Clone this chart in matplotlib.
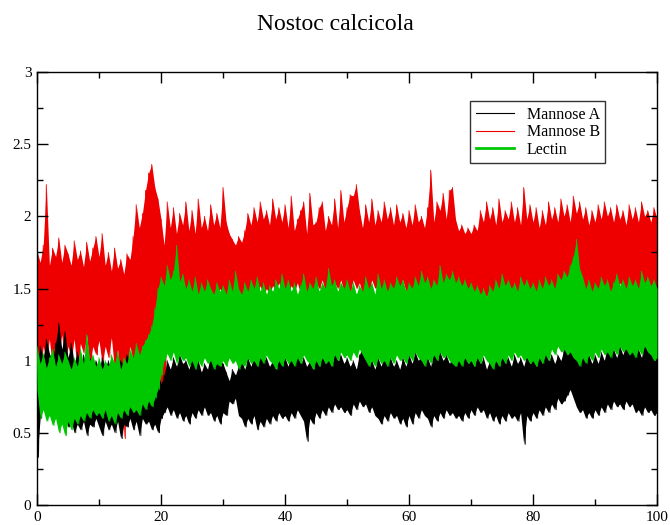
import numpy as np
import matplotlib
matplotlib.use("Agg")
import matplotlib.pyplot as plt
from matplotlib.lines import Line2D
from matplotlib.ticker import MultipleLocator, FormatStrFormatter

# =========================================
# DATA — upper / lower extent of each trace, read every 0.5 ns
# =========================================
STEP = 0.5

mannose_b_hi = [
    1.76, 1.68, 1.80, 2.22, 1.66, 1.78, 1.72, 1.85, 1.68, 1.80, 1.74, 1.66, 1.83, 1.70, 1.76, 1.65, 1.82, 1.69, 1.78, 1.86,
    1.72, 1.88, 1.66, 1.75, 1.62, 1.78, 1.64, 1.70, 1.60, 1.74, 1.70, 1.86, 2.08, 1.92, 2.02, 2.18, 2.30, 2.36, 2.20, 2.12,
    1.98, 1.80, 2.10, 1.92, 2.06, 1.88, 2.02, 1.94, 2.10, 1.90, 2.04, 1.88, 2.12, 1.92, 2.00, 1.90, 2.08, 1.94, 2.02, 1.92,
    2.20, 1.96, 1.88, 1.84, 1.80, 1.86, 1.82, 1.90, 2.02, 1.94, 2.06, 1.96, 2.10, 1.98, 2.04, 1.94, 2.12, 1.98, 2.06, 1.96,
    2.08, 1.92, 2.14, 1.90, 1.98, 2.04, 2.10, 1.88, 2.16, 1.94, 1.96, 2.06, 2.10, 1.90, 2.00, 1.94, 2.12, 1.92, 2.18, 1.96,
    2.06, 2.15, 2.14, 2.22, 2.04, 1.92, 2.08, 1.96, 2.12, 1.94, 2.04, 1.96, 2.10, 1.98, 2.06, 1.94, 2.08, 1.96, 2.02, 1.92,
    2.04, 1.94, 2.08, 1.96, 2.00, 1.92, 2.06, 2.32, 1.96, 2.10, 2.04, 2.16, 1.98, 2.18, 2.20, 1.98, 1.90, 1.94, 1.88, 1.92,
    1.88, 1.94, 1.90, 2.04, 1.96, 2.10, 1.98, 2.06, 1.94, 2.12, 1.96, 2.04, 1.98, 2.10, 1.96, 2.06, 1.94, 2.20, 1.98, 2.08,
    1.96, 2.06, 1.92, 2.04, 1.94, 2.10, 1.98, 2.06, 1.96, 2.12, 2.00, 2.08, 1.96, 2.14, 2.02, 2.10, 1.98, 2.06, 1.94, 2.04,
    1.96, 2.08, 1.98, 2.10, 2.00, 2.06, 1.96, 2.08, 1.98, 2.04, 1.94, 2.08, 1.98, 2.06, 1.96, 2.10, 2.00, 2.04, 1.96, 2.06, 1.98,
]
mannose_b_lo = [
    0.45, 0.90, 1.10, 1.00, 1.15, 0.95, 1.12, 1.05, 1.18, 0.98, 1.10, 1.02, 1.15, 0.92, 1.12, 1.05, 1.18, 0.96, 1.10, 1.04,
    1.14, 0.98, 1.10, 1.02, 1.16, 0.94, 1.08, 0.70, 0.46, 0.95, 1.10, 1.00, 1.05, 0.95, 1.10, 0.80, 1.00, 0.70, 0.90, 0.62,
    0.60, 0.75, 1.30, 1.40, 1.35, 1.45, 1.38, 1.48, 1.40, 1.50, 1.44, 1.52, 1.40, 1.48, 1.42, 1.50, 1.38, 1.46, 1.42, 1.50,
    1.44, 1.40, 1.36, 1.30, 1.34, 1.28, 1.36, 1.42, 1.48, 1.44, 1.50, 1.46, 1.52, 1.44, 1.50, 1.46, 1.52, 1.48, 1.54, 1.46,
    1.50, 1.46, 1.52, 1.48, 1.54, 1.46, 1.50, 1.44, 1.52, 1.48, 1.54, 1.50, 1.56, 1.48, 1.52, 1.46, 1.54, 1.50, 1.56, 1.48,
    1.52, 1.48, 1.56, 1.50, 1.54, 1.46, 1.52, 1.48, 1.56, 1.50, 1.54, 1.46, 1.50, 1.44, 1.52, 1.48, 1.54, 1.50, 1.56, 1.48,
    1.52, 1.46, 1.54, 1.48, 1.52, 1.46, 1.50, 1.44, 1.48, 1.42, 1.46, 1.40, 1.44, 1.38, 1.42, 1.36, 1.40, 1.38, 1.42, 1.40,
    1.44, 1.40, 1.46, 1.42, 1.48, 1.44, 1.50, 1.46, 1.52, 1.44, 1.48, 1.42, 1.46, 1.40, 1.44, 1.42, 1.48, 1.44, 1.50, 1.46,
    1.50, 1.44, 1.48, 1.42, 1.46, 1.40, 1.44, 1.42, 1.48, 1.44, 1.50, 1.46, 1.52, 1.48, 1.54, 1.46, 1.50, 1.44, 1.48, 1.42,
    1.46, 1.42, 1.48, 1.44, 1.50, 1.46, 1.52, 1.48, 1.54, 1.46, 1.50, 1.44, 1.48, 1.42, 1.46, 1.44, 1.50, 1.46, 1.48, 1.44, 1.46,
]

lectin_hi = [
    1.10, 0.98, 1.05, 0.95, 1.02, 1.08, 0.96, 1.04, 0.98, 1.06, 1.00, 0.94, 1.02, 0.96, 1.08, 0.98, 1.18, 1.00, 1.04, 0.96,
    1.02, 0.94, 1.00, 0.96, 1.04, 0.98, 1.06, 0.94, 1.02, 0.98, 1.08, 1.02, 1.12, 1.04, 1.10, 1.14, 1.18, 1.24, 1.36, 1.50,
    1.58, 1.52, 1.66, 1.56, 1.62, 1.80, 1.55, 1.60, 1.50, 1.56, 1.48, 1.58, 1.46, 1.54, 1.48, 1.56, 1.50, 1.46, 1.54, 1.48,
    1.52, 1.46, 1.56, 1.48, 1.62, 1.50, 1.46, 1.54, 1.48, 1.56, 1.50, 1.58, 1.48, 1.54, 1.46, 1.52, 1.48, 1.56, 1.50, 1.60,
    1.50, 1.56, 1.48, 1.54, 1.46, 1.52, 1.60, 1.48, 1.54, 1.50, 1.58, 1.48, 1.54, 1.50, 1.64, 1.52, 1.56, 1.48, 1.54, 1.50,
    1.56, 1.48, 1.54, 1.46, 1.52, 1.48, 1.58, 1.50, 1.54, 1.46, 1.60, 1.50, 1.56, 1.48, 1.54, 1.50, 1.58, 1.52, 1.56, 1.48,
    1.54, 1.50, 1.58, 1.52, 1.62, 1.54, 1.58, 1.50, 1.56, 1.52, 1.66, 1.54, 1.60, 1.56, 1.62, 1.54, 1.58, 1.52, 1.56, 1.50,
    1.54, 1.48, 1.52, 1.46, 1.50, 1.44, 1.52, 1.48, 1.56, 1.50, 1.60, 1.52, 1.56, 1.50, 1.54, 1.48, 1.58, 1.52, 1.56, 1.50,
    1.54, 1.48, 1.56, 1.50, 1.58, 1.52, 1.56, 1.50, 1.60, 1.56, 1.62, 1.58, 1.66, 1.72, 1.84, 1.64, 1.58, 1.50, 1.56, 1.48,
    1.54, 1.50, 1.58, 1.52, 1.56, 1.48, 1.54, 1.60, 1.52, 1.56, 1.50, 1.58, 1.52, 1.56, 1.50, 1.62, 1.54, 1.58, 1.52, 1.56, 1.50,
]
lectin_lo = [
    0.80, 0.60, 0.66, 0.58, 0.62, 0.55, 0.60, 0.50, 0.56, 0.48, 0.58, 0.52, 0.60, 0.56, 0.62, 0.58, 0.64, 0.60, 0.66, 0.62,
    0.64, 0.60, 0.66, 0.58, 0.62, 0.56, 0.64, 0.60, 0.66, 0.62, 0.68, 0.64, 0.66, 0.62, 0.70, 0.66, 0.72, 0.68, 0.74, 0.80,
    0.90, 1.00, 1.05, 1.00, 1.06, 0.98, 1.04, 1.00, 1.02, 0.96, 1.00, 0.94, 1.00, 0.96, 1.02, 0.98, 1.00, 0.94, 0.98, 0.96,
    1.00, 0.96, 1.02, 0.98, 1.00, 0.94, 0.98, 0.96, 1.02, 0.98, 1.00, 0.96, 1.02, 0.98, 1.04, 1.00, 0.98, 0.94, 1.00, 0.96,
    1.02, 0.98, 1.00, 0.96, 1.02, 0.98, 1.04, 1.00, 0.98, 0.94, 1.00, 0.96, 1.02, 0.98, 1.00, 0.96, 1.04, 1.00, 1.06, 1.02,
    1.04, 1.00, 1.06, 1.02, 1.08, 1.04, 1.00, 0.96, 1.00, 0.96, 1.02, 0.98, 1.00, 0.96, 1.02, 0.98, 1.04, 1.00, 1.02, 0.98,
    1.04, 1.00, 1.06, 1.02, 1.00, 0.96, 1.02, 0.98, 1.04, 1.00, 1.06, 1.02, 1.04, 1.00, 0.98, 0.96, 1.00, 0.96, 1.02, 0.98,
    1.00, 0.96, 1.02, 0.98, 1.04, 1.00, 0.98, 0.94, 1.00, 0.96, 1.02, 0.98, 1.04, 1.00, 1.06, 1.02, 1.04, 1.00, 1.02, 0.98,
    1.00, 0.96, 1.02, 0.98, 1.04, 1.00, 1.08, 1.04, 1.10, 1.06, 1.08, 1.04, 1.06, 1.02, 1.00, 0.96, 1.02, 0.98, 1.04, 1.00,
    1.06, 1.02, 1.08, 1.04, 1.06, 1.02, 1.08, 1.04, 1.10, 1.06, 1.08, 1.04, 1.06, 1.02, 1.08, 1.04, 1.10, 1.06, 1.04, 1.00, 1.02,
]

mannose_a_hi = [
    0.95, 1.10, 1.02, 1.15, 1.05, 1.00, 1.12, 1.26, 1.08, 1.20, 1.02, 1.12, 0.98, 1.06, 0.96, 1.04, 0.94, 1.02, 0.96, 1.00,
    0.94, 1.02, 0.96, 1.00, 0.92, 0.98, 0.94, 1.00, 0.96, 1.04, 0.98, 0.94, 0.96, 0.90, 0.94, 0.92, 0.88, 0.96, 0.90, 0.94,
    0.84, 0.90, 1.00, 0.94, 1.02, 0.96, 1.04, 0.98, 1.00, 0.94, 1.02, 0.96, 1.00, 0.92, 0.98, 0.94, 1.04, 0.98, 1.06, 1.00,
    0.98, 0.92, 0.86, 0.94, 0.90, 0.96, 1.00, 0.94, 1.02, 0.96, 1.04, 0.98, 1.06, 1.00, 1.02, 0.96, 1.00, 0.94, 1.04, 0.98,
    1.02, 0.96, 1.06, 1.00, 1.04, 0.98, 1.02, 0.96, 1.00, 0.94, 1.02, 0.96, 1.04, 0.98, 1.02, 0.96, 1.06, 1.00, 1.04, 0.98,
    1.02, 0.96, 1.00, 0.94, 1.04, 1.10, 1.26, 1.08, 1.00, 0.94, 1.02, 0.96, 1.04, 0.98, 1.02, 0.96, 1.00, 0.94, 1.02, 0.96,
    1.04, 0.98, 1.06, 1.00, 1.04, 0.98, 1.02, 0.96, 1.08, 1.02, 1.06, 1.00, 1.04, 0.98, 1.02, 0.96, 1.04, 0.98, 1.06, 1.00,
    1.02, 0.96, 1.04, 0.98, 1.02, 0.94, 1.00, 0.96, 1.04, 0.98, 1.06, 1.00, 1.02, 0.96, 1.04, 0.98, 1.02, 0.96, 1.04, 0.98,
    1.02, 0.96, 1.04, 0.98, 1.06, 1.00, 1.04, 0.98, 1.04, 1.00, 1.08, 1.12, 1.18, 1.24, 1.30, 1.16, 1.06, 1.00, 1.04, 0.98,
    1.04, 0.98, 1.06, 1.00, 1.10, 1.04, 1.08, 1.02, 1.10, 1.04, 1.12, 1.06, 1.10, 1.04, 1.08, 1.02, 1.14, 1.06, 1.10, 1.04, 1.02,
]
mannose_a_lo = [
    0.33, 0.60, 0.70, 0.64, 0.72, 0.66, 0.70, 0.62, 0.68, 0.60, 0.54, 0.58, 0.50, 0.56, 0.52, 0.58, 0.48, 0.56, 0.54, 0.60,
    0.54, 0.48, 0.58, 0.52, 0.56, 0.50, 0.58, 0.46, 0.56, 0.54, 0.60, 0.52, 0.58, 0.48, 0.60, 0.56, 0.58, 0.52, 0.56, 0.50,
    0.60, 0.64, 0.68, 0.62, 0.66, 0.60, 0.64, 0.58, 0.62, 0.56, 0.64, 0.60, 0.66, 0.62, 0.68, 0.62, 0.64, 0.58, 0.62, 0.56,
    0.64, 0.62, 0.72, 0.70, 0.74, 0.62, 0.60, 0.54, 0.60, 0.56, 0.62, 0.52, 0.58, 0.54, 0.60, 0.56, 0.62, 0.58, 0.64, 0.60,
    0.62, 0.58, 0.64, 0.60, 0.66, 0.62, 0.58, 0.44, 0.60, 0.56, 0.64, 0.60, 0.66, 0.62, 0.68, 0.64, 0.70, 0.66, 0.68, 0.64,
    0.66, 0.62, 0.70, 0.66, 0.72, 0.68, 0.70, 0.64, 0.68, 0.62, 0.60, 0.56, 0.62, 0.58, 0.64, 0.60, 0.62, 0.56, 0.60, 0.54,
    0.62, 0.56, 0.64, 0.60, 0.66, 0.62, 0.60, 0.54, 0.62, 0.58, 0.64, 0.60, 0.66, 0.62, 0.64, 0.60, 0.62, 0.58, 0.64, 0.60,
    0.66, 0.62, 0.68, 0.64, 0.66, 0.60, 0.64, 0.58, 0.62, 0.56, 0.62, 0.58, 0.64, 0.60, 0.62, 0.58, 0.64, 0.42, 0.62, 0.58,
    0.64, 0.60, 0.66, 0.62, 0.68, 0.64, 0.70, 0.66, 0.74, 0.70, 0.72, 0.76, 0.80, 0.74, 0.68, 0.64, 0.66, 0.60, 0.64, 0.60,
    0.66, 0.62, 0.68, 0.64, 0.70, 0.66, 0.72, 0.68, 0.70, 0.66, 0.72, 0.68, 0.70, 0.64, 0.66, 0.62, 0.68, 0.64, 0.66, 0.62, 0.64,
]

labels = ["Mannose A", "Mannose B", "Lectin"]
colors = ["#000000", "#ee0000", "#00c800"]

# =========================================
# PLOT
# =========================================
plt.rcParams["font.family"] = ["Liberation Serif", "DejaVu Serif"]

fig = plt.figure(figsize=(6.7, 5.25), dpi=100)
ax = fig.add_axes([37 / 670, 20 / 525, 620 / 670, 433 / 525])

# draw order: Mannose B, Mannose A, Lectin
series = [
    (mannose_b_hi, mannose_b_lo, colors[1], 1),
    (mannose_a_hi, mannose_a_lo, colors[0], 2),
    (lectin_hi, lectin_lo, colors[2], 3),
]
for hi, lo, c, z in series:
    hi = np.array(hi)
    lo = np.array(lo)
    t = np.arange(len(hi)) * STEP
    ax.fill_between(t, lo, hi, color=c, lw=0, zorder=z)
    # thin zigzag trace to keep the spiky line look
    tx = np.column_stack([t, t + STEP / 2]).ravel()[:-1]
    ty = np.column_stack([hi, lo]).ravel()[:-1]
    ax.plot(tx, ty, color=c, lw=0.6, zorder=z)

ax.set_xlim(0, 100)
ax.set_ylim(0, 3)
ax.xaxis.set_major_locator(MultipleLocator(20))
ax.xaxis.set_minor_locator(MultipleLocator(10))
ax.yaxis.set_major_locator(MultipleLocator(0.5))
ax.yaxis.set_minor_locator(MultipleLocator(0.25))
ax.yaxis.set_major_formatter(FormatStrFormatter("%g"))
ax.xaxis.set_major_formatter(FormatStrFormatter("%g"))
ax.tick_params(which="both", direction="in", top=True, right=True,
               labelsize=11, width=1, pad=4)
ax.tick_params(which="major", length=8)
ax.tick_params(which="minor", length=4)
for s in ax.spines.values():
    s.set_linewidth(1)

fig.text(0.5, 1 - 25 / 525, "Nostoc calcicola", ha="center", va="center", fontsize=17)

handles = [
    Line2D([], [], color=colors[0], lw=0.8),
    Line2D([], [], color=colors[1], lw=0.8),
    Line2D([], [], color=colors[2], lw=2),
]
leg = ax.legend(handles, labels, loc="upper left",
                bbox_to_anchor=(470 / 670, 1 - 101 / 525), bbox_transform=fig.transFigure,
                fontsize=11.5, frameon=True, fancybox=False, handlelength=2.4,
                borderpad=0.35, labelspacing=0.1, handletextpad=0.8, borderaxespad=0)
leg.get_frame().set_edgecolor("black")
leg.get_frame().set_linewidth(1)
leg.set_zorder(10)

plt.savefig("out.png", dpi=100)
